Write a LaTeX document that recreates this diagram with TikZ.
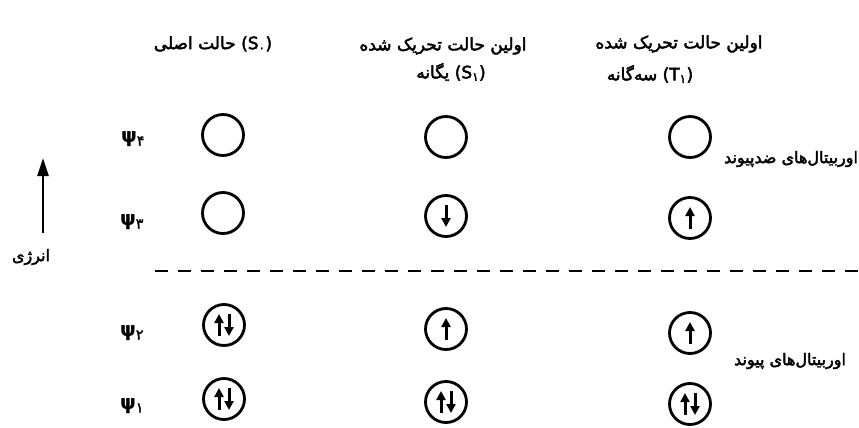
\documentclass[tikz,border=0pt]{standalone}
\usepackage{fontspec}
\TeXXeTstate=1
\newfontfamily\arabicfont[Script=Arabic,FakeBold=2.5]{DejaVu Sans}
\newfontfamily\latfont[FakeBold=2.5]{DejaVu Sans}
\newfontfamily\psifont{DejaVu Sans Bold}
\usetikzlibrary{arrows.meta}
\newcommand{\upspin}[2]{\draw[spin] ([xshift=#2,yshift=-11pt]#1.center) -- ([xshift=#2,yshift=11pt]#1.center);}
\newcommand{\downspin}[2]{\draw[spin] ([xshift=#2,yshift=11pt]#1.center) -- ([xshift=#2,yshift=-11pt]#1.center);}
\newcommand{\paren}[2]{{\latfont(#1\textsubscript{\arabicfont #2})}}
\begin{document}
\begin{tikzpicture}[x=1pt,y=-1pt,
  orb/.style={circle,draw,line width=2.8pt,minimum size=41pt,inner sep=0pt},
  spin/.style={line width=3pt,-{Triangle[length=9pt,width=9pt]}},
  fa/.style={font=\arabicfont\fontsize{17}{20}\selectfont,inner sep=0pt},
  fas/.style={font=\arabicfont\fontsize{16}{19}\selectfont,inner sep=0pt},
  psilab/.style={font=\psifont\fontsize{20}{22}\selectfont,inner sep=0pt}]
\useasboundingbox (0,0) rectangle (859,428);
% titles
\node[fa] (t0) at (213,44) {\beginR حالت اصلی\endR\ \paren{S}{۰}};
\node[fa] (t1a) at (443,46) {\beginR اولین حالت تحریک شده\endR};
\node[fa] (t1b) at (451,72) {\beginR یگانه\endR\ \paren{S}{۱}};
\node[fa] (t2a) at (679,44) {\beginR اولین حالت تحریک شده\endR};
\node[fa] (t2b) at (650,74) {\beginR سه‌گانه\endR\ \paren{T}{۱}};
% psi labels
\node[psilab] (p4) at (133,139) {ψ\textsubscript{\arabicfont ۴}};
\node[psilab] (p3) at (132,222) {ψ\textsubscript{\arabicfont ۳}};
\node[psilab] (p2) at (132,333) {ψ\textsubscript{\arabicfont ۲}};
\node[psilab] (p1) at (132,406) {ψ\textsubscript{\arabicfont ۱}};
% orbitals
\node[orb] (a4) at (223,135) {};
\node[orb] (a3) at (223,213) {};
\node[orb] (a2) at (224,325) {};
\node[orb] (a1) at (224,399) {};
\node[orb] (b4) at (446,137) {};
\node[orb] (b3) at (446,216) {};
\node[orb] (b2) at (446,329) {};
\node[orb] (b1) at (446,402) {};
\node[orb] (c4) at (690,137) {};
\node[orb] (c3) at (690,218) {};
\node[orb] (c2) at (690,333) {};
\node[orb] (c1) at (690,404) {};
% spins
\upspin{a2}{-5pt}\downspin{a2}{5pt}
\upspin{a1}{-5pt}\downspin{a1}{5pt}
\downspin{b3}{0pt}
\upspin{b2}{0pt}
\upspin{b1}{-5pt}\downspin{b1}{5pt}
\upspin{c3}{0pt}
\upspin{c2}{0pt}
\upspin{c1}{-5pt}\downspin{c1}{5pt}
% dashed separator
\coordinate (dl) at (155,271);
\coordinate (dr) at (859,271);
\draw[line width=2.8pt,dash pattern=on 13pt off 10pt] (dl) -- (dr);
% side labels
\node[fas] (anti) at (791,159) {\beginR اوربیتال‌های ضدپیوند\endR};
\node[fas] (bond) at (790,361) {\beginR اوربیتال‌های پیوند\endR};
% energy arrow
\coordinate (ea) at (43,233);
\coordinate (eb) at (43,158);
\draw[line width=2.6pt,-{Triangle[length=18pt,width=11pt]}] (ea) -- (eb);
\node[fas] (en) at (31,257) {انرژی};
\end{tikzpicture}
\end{document}
